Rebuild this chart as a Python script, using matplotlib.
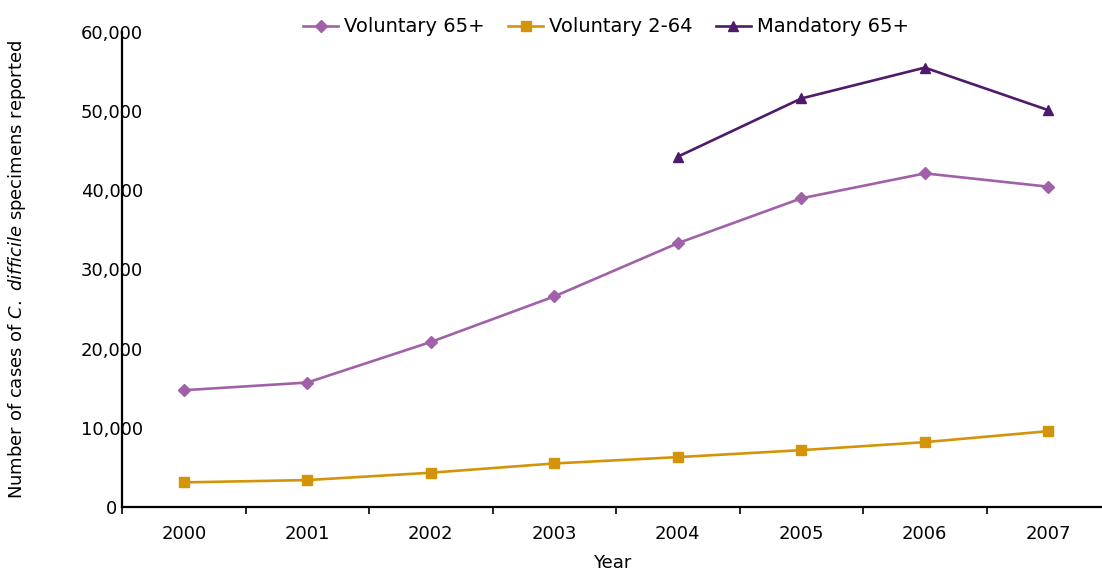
import matplotlib.pyplot as plt
from matplotlib.ticker import FuncFormatter

years = ['2000', '2001', '2002', '2003', '2004', '2005', '2006', '2007']
voluntary_65 = [14750, 15720, 20840, 26600, 33320, 38990, 42140, 40460]
voluntary_2_64 = [3110, 3400, 4330, 5500, 6300, 7180, 8190, 9580]
mandatory_years = ['2004', '2005', '2006', '2007']
mandatory_65 = [44250, 51600, 55500, 50130]
y_ticks = [0, 10000, 20000, 30000, 40000, 50000, 60000]

plt.rcParams['font.family'] = 'DejaVu Sans'

fig = plt.figure(figsize=(11.02, 5.76), dpi=100)
ax = fig.add_axes([122 / 1102, 1 - 507 / 576, 980 / 1102, (507 - 32) / 576])

x = list(range(len(years)))
xm = [years.index(y) for y in mandatory_years]

ax.plot(x, voluntary_65, color='#a061a8', lw=1.9, marker='D', ms=6, label='Voluntary 65+')
ax.plot(x, voluntary_2_64, color='#d4940a', lw=1.9, marker='s', ms=7, label='Voluntary 2-64')
ax.plot(xm, mandatory_65, color='#4e1a6a', lw=1.9, marker='^', ms=7, label='Mandatory 65+')

ax.set_xlim(-0.5, 7.435)
ax.set_ylim(0, 60000)

# category boundaries get the tick marks, labels sit in between
ax.set_xticks([i - 0.5 for i in range(len(years))])
ax.set_xticklabels([])
ax.set_xticks(x, minor=True)
ax.set_xticklabels(years, minor=True, fontsize=13)
ax.tick_params(axis='x', which='major', direction='out', length=5, width=1.2)
ax.tick_params(axis='x', which='minor', length=0, pad=13)

ax.set_yticks(y_ticks)
ax.yaxis.set_major_formatter(FuncFormatter(lambda v, p: f'{int(v):,}'))
ax.tick_params(axis='y', which='major', length=0, pad=-4, labelsize=13)
for lab in ax.get_yticklabels():
    lab.set_horizontalalignment('center')
    lab.set_x(-0.016)
ax.set_yticks([0], minor=True)
ax.tick_params(axis='y', which='minor', length=4, width=1.2)

for s in ['top', 'right']:
    ax.spines[s].set_visible(False)
for s in ['left', 'bottom']:
    ax.spines[s].set_linewidth(1.6)

ax.set_xlabel('Year', fontsize=13, labelpad=8)
ax.set_ylabel(r'Number of cases of $\it{C.\ difficile}$ specimens reported', fontsize=13)
ax.yaxis.set_label_coords(-0.0955, 0.5)

fig.legend(loc='center', bbox_to_anchor=(0.55, 1 - 27 / 576), ncol=3, frameon=False,
           fontsize=14, handlelength=1.8, handletextpad=0.3, columnspacing=1.2)

fig.savefig('out.png', dpi=100)
